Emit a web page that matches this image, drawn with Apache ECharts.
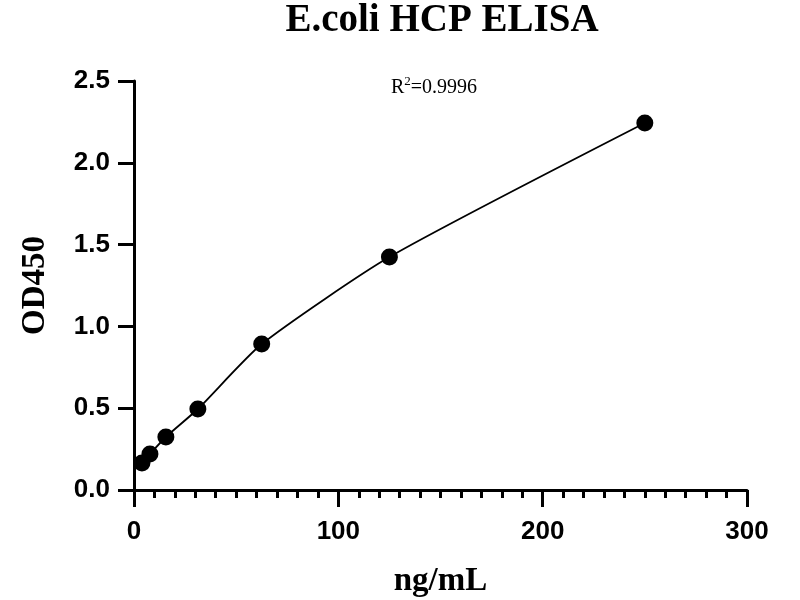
<!DOCTYPE html>
<html lang="en" style="height: 100%">
<head>
  <meta charset="utf-8">
</head>
<body style="height: 100%; margin: 0">
  <div id="container" style="width: 800px; height: 600px"></div>

  <script type="text/javascript" src="https://cdn.jsdelivr.net/npm/echarts@6/dist/echarts.min.js"></script>
  <script type="text/javascript">
    // standard curve points (ng/mL, OD450)
    var concentrations = [3.9, 7.8, 15.6, 31.25, 62.5, 125, 250];
    var od450 = [0.165, 0.22, 0.324, 0.495, 0.892, 1.424, 2.243];
    var chartTitle = 'E.coli HCP ELISA';
    var rSquared = '0.9996';

    var points = concentrations.map(function (c, i) {
      return [c, od450[i]];
    });

    var dom = document.getElementById('container');
    var myChart = echarts.init(dom, null, { renderer: 'canvas' });

    var axisFont = {
      fontFamily: 'Liberation Sans',
      fontWeight: 'bold',
      fontSize: 26,
      color: '#000'
    };
    var nameFont = {
      fontFamily: 'Liberation Serif',
      fontWeight: 'bold',
      fontSize: 33,
      color: '#000'
    };

    var option = {
      animation: false,
      backgroundColor: '#fff',
      title: {
        text: chartTitle,
        left: 437,
        textAlign: 'center',
        top: -4,
        textStyle: {
          fontFamily: 'Liberation Serif',
          fontWeight: 'bold',
          fontSize: 39,
          color: '#000'
        }
      },
      graphic: [
        {
          type: 'text',
          left: 391,
          top: 70,
          style: {
            text: '{m|R}{sup|2}{m|=' + rSquared + '}',
            fill: '#000',
            rich: {
              m: {
                fontFamily: 'Liberation Serif',
                fontSize: 20,
                lineHeight: 28,
                verticalAlign: 'bottom'
              },
              sup: {
                fontFamily: 'Liberation Serif',
                fontSize: 13,
                lineHeight: 13,
                verticalAlign: 'top',
                padding: [5, 0, 0, 0]
              }
            }
          }
        }
      ],
      grid: {
        left: 134,
        right: 53,
        top: 81,
        bottom: 110,
        outerBoundsMode: 'none'
      },
      xAxis: {
        type: 'value',
        min: 0,
        max: 300,
        interval: 100,
        name: 'ng/mL',
        nameLocation: 'middle',
        nameGap: 75,
        nameTextStyle: nameFont,
        axisLine: { lineStyle: { color: '#000', width: 3 } },
        axisTick: { length: 17, lineStyle: { color: '#000', width: 3 } },
        minorTick: { show: true, splitNumber: 10, length: 8, lineStyle: { color: '#000', width: 3 } },
        splitLine: { show: false },
        axisLabel: Object.assign({ margin: 29 }, axisFont)
      },
      yAxis: {
        type: 'value',
        min: 0,
        max: 2.5,
        interval: 0.5,
        name: 'OD450',
        nameLocation: 'middle',
        nameGap: 82,
        nameTextStyle: nameFont,
        axisLine: { show: true, lineStyle: { color: '#000', width: 3 } },
        axisTick: { show: true, length: 16, lineStyle: { color: '#000', width: 3 } },
        splitLine: { show: false },
        axisLabel: Object.assign({
          margin: 24,
          formatter: function (v) { return v.toFixed(1); }
        }, axisFont)
      },
      series: [
        {
          type: 'line',
          data: points,
          smooth: 0.2,
          showSymbol: false,
          symbol: 'none',
          lineStyle: { color: '#000', width: 1.8 },
          z: 2
        },
        {
          type: 'scatter',
          data: points,
          symbol: 'circle',
          symbolSize: 17,
          itemStyle: { color: '#000', opacity: 1 },
          z: 3
        }
      ]
    };

    myChart.setOption(option);
    window.addEventListener('resize', myChart.resize);
  </script>
</body>
</html>
